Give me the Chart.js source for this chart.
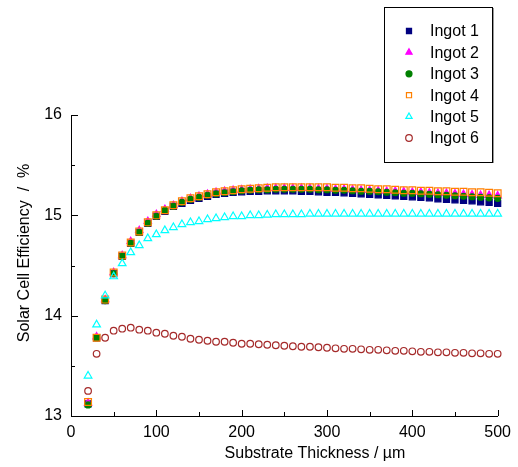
<!DOCTYPE html>
<html>
<head>
<meta charset="utf-8">
<script src="https://cdn.jsdelivr.net/npm/chart.js@4.4.1/dist/chart.umd.min.js"></script>
<style>
  body { margin: 0; background: #fff; }
  canvas { display: block; }
</style>
</head>
<body>
<canvas id="efficiency-chart" width="518" height="467"></canvas>
<script>
'use strict';

var thickness = [20,30,40,50,60,70,80,90,100,110,120,130,140,150,160,170,180,190,200,210,
    220,230,240,250,260,270,280,290,300,310,320,330,340,350,360,370,380,390,400,410,
    420,430,440,450,460,470,480,490,500];

var ingot1 = [13.12,13.78,14.15,14.42,14.59,14.72,14.83,14.92,14.99,15.04,
    15.09,15.12,15.15,15.17,15.19,15.21,15.22,15.23,15.235,15.24,
    15.24,15.245,15.245,15.245,15.245,15.24,15.24,15.235,15.23,15.23,
    15.225,15.22,15.215,15.21,15.205,15.2,15.195,15.19,15.185,15.18,
    15.175,15.165,15.16,15.155,15.15,15.145,15.135,15.13,15.12];
var ingot2 = [13.13,13.79,14.16,14.43,14.60,14.74,14.85,14.94,15.01,15.06,
    15.10,15.14,15.17,15.19,15.21,15.23,15.24,15.25,15.255,15.26,
    15.265,15.27,15.27,15.27,15.27,15.27,15.27,15.265,15.265,15.26,
    15.26,15.255,15.25,15.25,15.245,15.24,15.24,15.235,15.23,15.23,
    15.225,15.22,15.22,15.215,15.21,15.205,15.2,15.2,15.195];
var ingot3 = [13.11,13.78,14.15,14.42,14.59,14.72,14.83,14.92,14.99,15.05,
    15.09,15.13,15.16,15.18,15.20,15.215,15.225,15.235,15.245,15.25,
    15.255,15.255,15.26,15.26,15.26,15.26,15.26,15.255,15.255,15.25,
    15.25,15.245,15.24,15.24,15.235,15.23,15.225,15.22,15.22,15.215,
    15.21,15.205,15.2,15.195,15.19,15.185,15.18,15.175,15.17];
var ingot4 = [13.14,13.78,14.16,14.43,14.60,14.73,14.84,14.93,15.00,15.05,
    15.10,15.14,15.17,15.19,15.21,15.23,15.24,15.25,15.26,15.265,
    15.27,15.275,15.28,15.28,15.28,15.28,15.28,15.28,15.28,15.275,
    15.275,15.27,15.27,15.265,15.26,15.26,15.255,15.25,15.25,15.245,
    15.245,15.24,15.24,15.235,15.235,15.23,15.23,15.225,15.22];
var ingot5 = [13.40,13.91,14.20,14.39,14.52,14.63,14.70,14.77,14.81,14.85,
    14.88,14.91,14.93,14.94,14.96,14.97,14.98,14.99,14.99,15.0,
    15.0,15.005,15.01,15.01,15.01,15.01,15.015,15.015,15.015,15.015,
    15.015,15.015,15.015,15.015,15.015,15.015,15.015,15.015,15.015,15.015,
    15.015,15.015,15.015,15.015,15.015,15.015,15.015,15.015,15.015];
var ingot6 = [13.25,13.62,13.78,13.85,13.87,13.88,13.86,13.85,13.83,13.82,
    13.80,13.79,13.77,13.76,13.75,13.74,13.74,13.73,13.72,13.72,
    13.715,13.71,13.705,13.70,13.695,13.69,13.69,13.685,13.68,13.675,
    13.67,13.67,13.665,13.66,13.66,13.655,13.65,13.65,13.645,13.64,
    13.64,13.635,13.635,13.63,13.63,13.625,13.625,13.62,13.62];

var seriesLabels = ["Ingot 1", "Ingot 2", "Ingot 3", "Ingot 4", "Ingot 5", "Ingot 6"];
var xTicks = [0, 100, 200, 300, 400, 500];
var yTicks = [13, 14, 15, 16];

var FONT = "'Liberation Sans', Arial, sans-serif";

var toPoints = function(values) {
    var pts = [];
    for (var i = 0; i < thickness.length; i++) {
        pts.push({x: thickness[i], y: values[i]});
    }
    return pts;
};

var makeSet = function(label, values, style, color, fill, radius, order) {
    return {
        label: label,
        data: toPoints(values),
        showLine: false,
        pointStyle: style,
        pointRadius: radius,
        pointHoverRadius: radius,
        pointBorderWidth: 1.2,
        borderColor: color,
        backgroundColor: fill ? color : 'rgba(0,0,0,0)',
        clip: false,
        order: order
    };
};

var datasets = [
    makeSet(seriesLabels[0], ingot1, 'rect', '#000080', true, 4.3, 6),
    makeSet(seriesLabels[1], ingot2, 'triangle', '#ff00ff', true, 4.2, 5),
    makeSet(seriesLabels[2], ingot3, 'circle', '#008000', true, 3, 4),
    makeSet(seriesLabels[3], ingot4, 'rect', '#ff8000', false, 4.8, 3),
    makeSet(seriesLabels[4], ingot5, 'triangle', '#00ffff', false, 4.4, 2),
    makeSet(seriesLabels[5], ingot6, 'circle', '#a52a2a', false, 3.3, 1)
];

var eachItem = function(arr, fn) {
    for (var i = 0; i < arr.length; i++) fn(i, arr[i]);
};

// inward ticks, axis titles and the boxed legend
var decorPlugin = {
    id: 'decor',
    afterDraw: function(chart) {
        var ctx = chart.ctx;
        var xs = chart.scales.x, ys = chart.scales.y;
        var area = chart.chartArea;
        ctx.save();
        ctx.strokeStyle = '#000';
        ctx.lineWidth = 1;
        ctx.beginPath();
        for (var v = 13; v <= 16; v += 0.5) {
            var py = Math.round(ys.getPixelForValue(v)) + 0.5;
            var len = (v % 1 === 0) ? 7 : 4;
            ctx.moveTo(area.left, py);
            ctx.lineTo(area.left + len, py);
        }
        for (var t = 0; t <= 500; t += 50) {
            var px = Math.round(xs.getPixelForValue(t)) + 0.5;
            var tl = (t % 100 === 0) ? 6 : 4;
            ctx.moveTo(px, area.bottom);
            ctx.lineTo(px, area.bottom - tl);
        }
        ctx.stroke();

        ctx.fillStyle = '#000';
        ctx.font = '16px ' + FONT;
        ctx.textAlign = 'center';
        ctx.textBaseline = 'middle';
        ctx.fillText('Substrate Thickness / \u00b5m', 315, 454);
        ctx.save();
        ctx.translate(25, 253);
        ctx.rotate(-Math.PI / 2);
        ctx.fillText('Solar Cell Efficiency  /  %', 0, 0);
        ctx.restore();

        // legend box
        ctx.fillStyle = '#fff';
        ctx.fillRect(384, 7, 108, 155);
        ctx.strokeStyle = '#000';
        ctx.strokeRect(384.5, 7.5, 108, 155);
        ctx.strokeStyle = '#999';
        ctx.beginPath();
        ctx.moveTo(493.5, 8);
        ctx.lineTo(493.5, 163);
        ctx.stroke();

        ctx.textAlign = 'left';
        eachItem(chart.data.datasets, function(i, ds) {
            var ry = 31 + i * 21.4;
            ctx.fillStyle = ds.backgroundColor;
            ctx.strokeStyle = ds.borderColor;
            ctx.lineWidth = 1.2;
            Chart.helpers.drawPoint(ctx, {
                pointStyle: ds.pointStyle,
                radius: Math.min(ds.pointRadius, 3.6),
                rotation: 0,
                borderWidth: 1.2
            }, 409, ry);
            ctx.fillStyle = '#000';
            ctx.fillText(ds.label, 430, ry + 1);
        });
        ctx.restore();
    }
};

Chart.defaults.font.family = FONT;
Chart.defaults.font.size = 16;
Chart.defaults.color = '#000';

var ctxEff = document.getElementById('efficiency-chart').getContext('2d');
var effChart = new Chart(ctxEff, {
    type: 'scatter',
    data: { datasets: datasets },
    options: {
        responsive: false,
        animation: false,
        layout: { padding: { left: 0, top: 115, right: 15, bottom: 0 } },
        plugins: {
            legend: { display: false },
            tooltip: { enabled: false }
        },
        scales: {
            x: {
                type: 'linear',
                min: 0,
                max: 500,
                afterBuildTicks: function(scale) {
                    scale.ticks = xTicks.map(function(v) { return {value: v}; });
                },
                ticks: { padding: 7, maxRotation: 0, autoSkip: false },
                grid: { display: false, drawTicks: false },
                border: { display: true, color: '#000', width: 1 },
                afterFit: function(scale) { scale.height = 51; }
            },
            y: {
                type: 'linear',
                min: 13,
                max: 16,
                afterBuildTicks: function(scale) {
                    scale.ticks = yTicks.map(function(v) { return {value: v}; });
                },
                ticks: { padding: 9, autoSkip: false },
                grid: { display: false, drawTicks: false },
                border: { display: true, color: '#000', width: 1 },
                afterFit: function(scale) { scale.width = 71; }
            }
        }
    },
    plugins: [decorPlugin]
});
</script>
</body>
</html>
